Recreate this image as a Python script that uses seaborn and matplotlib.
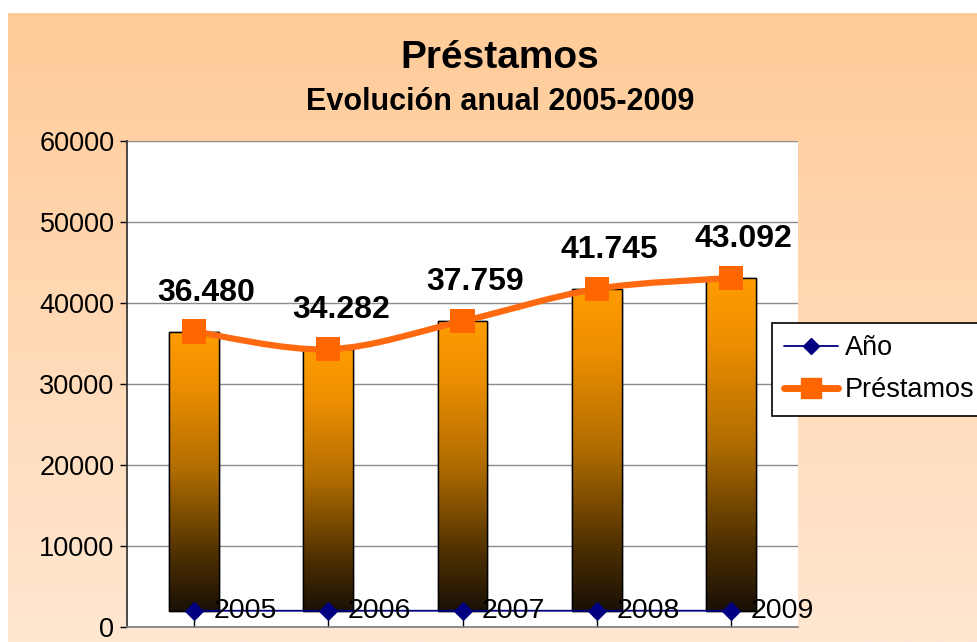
import numpy as np
import matplotlib
matplotlib.use("Agg")
import matplotlib.pyplot as plt
import seaborn as sns
from matplotlib.path import Path
from matplotlib.patches import PathPatch
from matplotlib.lines import Line2D
from matplotlib.colors import LinearSegmentedColormap

# Data
years = ["2005", "2006", "2007", "2008", "2009"]
anio = [2005, 2006, 2007, 2008, 2009]
prestamos = [36480, 34282, 37759, 41745, 43092]
value_labels = ["36.480", "34.282", "37.759", "41.745", "43.092"]
yticks = [0, 10000, 20000, 30000, 40000, 50000, 60000]

sns.set_theme(style="white")
plt.rcParams["font.family"] = ["Liberation Sans", "DejaVu Sans"]
plt.rcParams["text.color"] = "black"
plt.rcParams["ytick.color"] = "black"
plt.rcParams["xtick.color"] = "black"

fig = plt.figure(figsize=(9.78, 6.42), dpi=100)

# peach gradient background behind everything
bg = fig.add_axes([8 / 978, 0, 1 - 8 / 978, 1 - 13 / 642], zorder=-5)
bg_cmap = LinearSegmentedColormap.from_list("bg", ["#ffe7d2", "#ffcb98"])
bg.imshow(np.linspace(0, 1, 256).reshape(-1, 1), cmap=bg_cmap, aspect="auto",
          origin="lower", extent=[0, 1, 0, 1])
bg.axis("off")

ax = fig.add_axes([127 / 978, 15 / 642, 671 / 978, 486 / 642])
ax.set_facecolor("white")

# bars (drawn from the "Año" level up to the loan value)
sns.barplot(x=years, y=prestamos, ax=ax, width=0.37, color="#ff9900",
            edgecolor="black", linewidth=1.0, zorder=2)
bar_cmap = LinearSegmentedColormap.from_list(
    "bar", [(0.0, "#1a1006"), (0.2, "#4e3000"), (0.5, "#b06c00"),
            (0.8, "#ec8e00"), (1.0, "#ff9c00")])
grad = np.linspace(0, 1, 256).reshape(-1, 1)
for patch, base in zip(ax.patches, anio):
    top = patch.get_height()
    patch.set_y(base)
    patch.set_height(top - base)
    x0 = patch.get_x()
    w = patch.get_width()
    im = ax.imshow(grad, cmap=bar_cmap, aspect="auto", origin="lower",
                   extent=[x0, x0 + w, base, top], zorder=2.1)
    im.set_clip_path(patch)
    # redraw outline on top of the gradient
    ax.add_patch(plt.Rectangle((x0, base), w, top - base, fill=False,
                               edgecolor="black", linewidth=1.0, zorder=2.2))

xs = np.arange(len(years))

# "Año" series: navy line with diamonds
sns.lineplot(x=xs, y=anio, ax=ax, color="#000080", linewidth=1.3,
             marker="D", markersize=9, markeredgecolor="#000080", zorder=3)

# smoothed orange line through the loan values (Bezier segments)
pts = np.column_stack([xs, prestamos]).astype(float)
verts = [pts[0]]
codes = [Path.MOVETO]
n = len(pts)
for i in range(n - 1):
    p0 = pts[max(i - 1, 0)]
    p1 = pts[i]
    p2 = pts[i + 1]
    p3 = pts[min(i + 2, n - 1)]
    c1 = p1 + (p2 - p0) / 6
    c2 = p2 - (p3 - p1) / 6
    verts += [c1, c2, p2]
    codes += [Path.CURVE4] * 3
ax.add_patch(PathPatch(Path(verts, codes), fill=False, edgecolor="#ff6a10",
                       linewidth=4.5, capstyle="round", zorder=4))
sns.scatterplot(x=xs, y=prestamos, ax=ax, marker="s", s=300, color="#ff6600",
                edgecolor="none", zorder=5, legend=False)

# value labels
for x, v, lab in zip(xs, prestamos, value_labels):
    ax.annotate(lab, (x, v), xytext=(9, 28), textcoords="offset points",
                ha="center", va="center", fontsize=23, fontweight="bold",
                color="black", zorder=6)

# year labels next to diamonds
for x, v, lab in zip(xs, anio, years):
    ax.annotate(lab, (x, v), xytext=(14, 0), textcoords="offset points",
                ha="left", va="center", fontsize=20.5, color="black", zorder=6)

ax.set_xlim(-0.5, len(years) - 0.5)
ax.set_ylim(0, 60000)
ax.set_yticks(yticks)
ax.set_yticklabels([str(t) for t in yticks], fontsize=19.5)
ax.set_xticks(xs)
ax.set_xticklabels([])
ax.set_xlabel("")
ax.set_ylabel("")
ax.yaxis.grid(True, color="#8c8c8c", linewidth=1.0)
ax.set_axisbelow(True)
ax.tick_params(axis="y", direction="out", length=5, width=1, color="black",
               pad=4, left=True)
ax.tick_params(axis="x", direction="in", length=11, width=1, color="black",
               bottom=True)
for side in ["top", "right"]:
    ax.spines[side].set_visible(False)
ax.spines["left"].set_color("#333333")
ax.spines["bottom"].set_color("#808080")

# titles
fig.text(0.511, 1 - 58 / 642, "Préstamos", ha="center", va="center",
         fontsize=28, fontweight="bold")
fig.text(0.511, 1 - 102 / 642, "Evolución anual 2005-2009", ha="center",
         va="center", fontsize=22, fontweight="bold")

# legend (right edge runs to the border as in the original)
handles = [
    Line2D([], [], color="#000080", marker="D", markersize=8, linewidth=1.3),
    Line2D([], [], color="#ff6600", marker="s", markersize=14, linewidth=5),
]
leg = fig.legend(handles, ["Año", "Préstamos"], loc="upper left",
                 bbox_to_anchor=(772 / 978, 1 - 323 / 642), fontsize=19.5,
                 frameon=True, fancybox=False, framealpha=1,
                 edgecolor="black", handlelength=2.0, borderpad=0.45,
                 labelspacing=0.6, handletextpad=0.25, borderaxespad=0)
leg.get_frame().set_linewidth(1.2)

fig.savefig("out.png", dpi=100)
